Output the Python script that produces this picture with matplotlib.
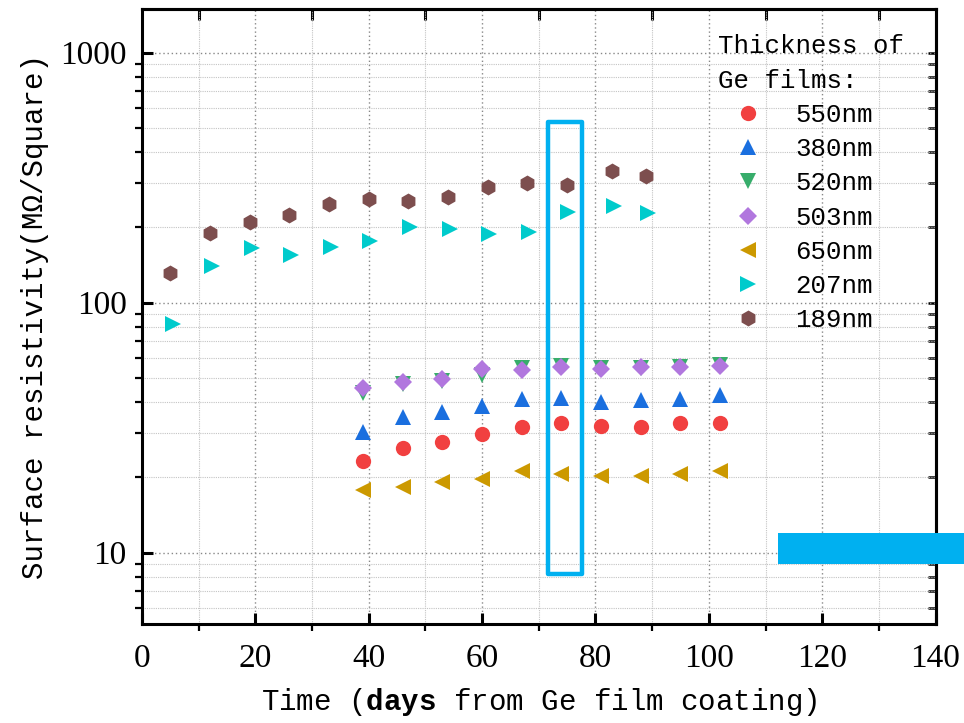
import matplotlib
matplotlib.use("Agg")
import matplotlib.pyplot as plt
from matplotlib.ticker import MultipleLocator, LogLocator, FixedLocator, NullFormatter
from matplotlib.patches import Rectangle

# ---------------- data ----------------
days_hi = [5, 12, 19, 26, 33, 40, 47, 54, 61, 68, 75, 83, 89]
days_207 = [5.4, 12.4, 19.4, 26.3, 33.3, 40.3, 47.3, 54.3, 61.3, 68.3, 75.2, 83.3, 89.2]
days_lo = [39, 46, 53, 60, 67, 74, 81, 88, 95, 102]

r_550 = [23.3, 26.3, 27.8, 29.8, 31.7, 32.9, 32.2, 31.9, 32.9, 32.9]
r_380 = [30.4, 34.8, 36.6, 38.6, 41.2, 41.5, 40.2, 40.7, 41.3, 42.6]
r_520 = [43.4, 47.2, 48.8, 51.6, 54.8, 56.0, 54.8, 54.8, 55.5, 56.4]
r_503 = [45.5, 48.3, 49.5, 54.2, 53.8, 55.5, 54.3, 55.2, 55.5, 56.0]
r_650 = [17.8, 18.3, 19.1, 19.8, 21.2, 20.7, 20.2, 20.3, 20.7, 21.2]
r_207 = [82.2, 140, 165, 155, 167.5, 177, 201, 197, 188, 192, 230, 244, 229]
r_189 = [131, 190, 210, 224, 248, 259, 256, 265, 291, 300, 295, 337, 322]

labels = ["550nm", "380nm", "520nm", "503nm", "650nm", "207nm", "189nm"]
colors = ["#F14040", "#1A6FDF", "#37AD6B", "#B177DE", "#CC9900", "#00CBCC", "#7D4E4E"]
markers = ["o", "^", "v", "D", "<", ">", "h"]
sizes = [11, 12, 12, 9.5, 12, 12, 11.5]
xs = [days_lo, days_lo, days_lo, days_lo, days_lo, days_207, days_hi]
ys = [r_550, r_380, r_520, r_503, r_650, r_207, r_189]

x_ticks = [0, 20, 40, 60, 80, 100, 120, 140]
y_ticks = [10, 100, 1000]

# ---------------- style ----------------
plt.rcParams["mathtext.fontset"] = "custom"
plt.rcParams["mathtext.rm"] = "Liberation Mono"
plt.rcParams["mathtext.bf"] = "Liberation Mono:bold"

mono = "Liberation Mono"
serif = "Liberation Serif"

fig = plt.figure(figsize=(9.64, 7.23), dpi=100)
ax = fig.add_axes([0.1473, 0.1370, 0.8232, 0.8499])

for x, y, c, m, s, lab in zip(xs, ys, colors, markers, sizes, labels):
    ax.plot(x, y, linestyle="none", marker=m, markersize=s, color=c,
            markeredgewidth=0, label=lab, zorder=3)

ax.set_yscale("log")
ax.set_xlim(0, 140)
ax.set_ylim(5.19, 1488)

ax.xaxis.set_major_locator(FixedLocator(x_ticks))
ax.xaxis.set_minor_locator(MultipleLocator(10))
ax.yaxis.set_major_locator(FixedLocator(y_ticks))
ax.yaxis.set_minor_locator(LogLocator(base=10, subs=range(2, 10)))
ax.yaxis.set_minor_formatter(NullFormatter())
ax.set_yticklabels([str(v) for v in y_ticks])
ax.set_xticklabels([str(v) for v in x_ticks])

for sp in ax.spines.values():
    sp.set_linewidth(2.2)
    sp.set_color("black")

ax.tick_params(which="major", direction="in", length=8, width=2.2,
               labelsize=24, pad=14)
ax.tick_params(axis="y", which="major", pad=11)
ax.tick_params(which="minor", direction="out", length=5, width=1.6)
for lab in ax.get_xticklabels() + ax.get_yticklabels():
    lab.set_fontfamily(serif)

# mirrored ticks on top / right
top = ax.secondary_xaxis("top")
top.xaxis.set_major_locator(FixedLocator([]))
top.xaxis.set_minor_locator(FixedLocator([10, 30, 50, 70, 90, 110, 130]))
top.tick_params(which="minor", direction="in", length=8, width=2.2)
top.xaxis.set_minor_formatter(NullFormatter())
top.spines["top"].set_linewidth(2.2)

right = ax.secondary_yaxis("right")
right.set_yscale("log")
right.yaxis.set_major_locator(FixedLocator(y_ticks))
right.yaxis.set_minor_locator(LogLocator(base=10, subs=range(2, 10)))
right.yaxis.set_major_formatter(NullFormatter())
right.yaxis.set_minor_formatter(NullFormatter())
right.tick_params(which="both", direction="in", length=6, width=1.8)
right.spines["right"].set_linewidth(2.2)

# grid
ax.grid(which="major", color="#888888", linestyle=(0, (1, 2)), linewidth=1.0)
ax.grid(which="minor", color="#c4c4c4", linestyle=(0, (1, 1)), linewidth=0.8)
ax.set_axisbelow(True)

# labels
ax.set_xlabel(r"Time ($\mathbf{days}$ from Ge film coating)",
              fontfamily=mono, fontsize=21, labelpad=9)
ax.set_ylabel("Surface resistivity(MΩ/Square)", fontfamily=mono,
              fontsize=21, labelpad=8)

# legend
leg = ax.legend(loc="upper left", bbox_to_anchor=(0.726, 0.96), frameon=False,
                title="Thickness of\nGe films:", alignment="left",
                prop={"family": mono, "size": 18.5},
                title_fontproperties={"family": mono, "size": 18.5},
                handlelength=2.3, handletextpad=0.7, labelspacing=0.4,
                borderpad=0.0, borderaxespad=0.0)
leg.get_title().set_linespacing(1.55)

# annotation shapes
ax.add_patch(Rectangle((71.6, 8.22), 77.7 - 71.6, 529 - 8.22, fill=False,
                       edgecolor="#00B0F0", linewidth=3.2, joinstyle="round",
                       clip_on=False, zorder=5))
ax.add_patch(Rectangle((112.2, 9.04), 40, 11.97 - 9.04, facecolor="#00B0F0",
                       edgecolor="none", clip_on=False, zorder=5))

fig.savefig("out.png", dpi=100)
